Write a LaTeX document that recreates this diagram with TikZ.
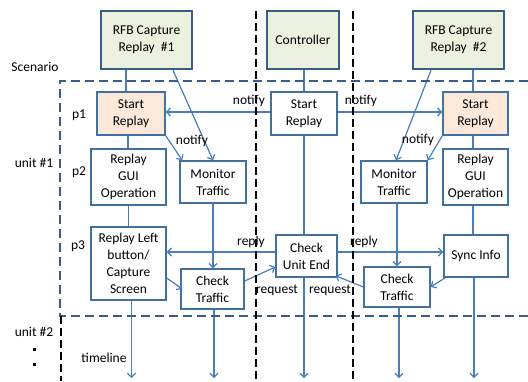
\documentclass[tikz,border=0pt]{standalone}
\usepackage{fontspec}
\setmainfont{Carlito}
\usetikzlibrary{arrows.meta}
\definecolor{lineblue}{HTML}{4A7EBB}
\definecolor{boxblue}{HTML}{41719C}
\definecolor{darkblue}{HTML}{385D8A}
\definecolor{topfill}{HTML}{EBF1DE}
\definecolor{peach}{HTML}{FDE9D9}
\tikzset{
  txt/.style={font=\fontsize{13.5}{17}\selectfont, inner sep=0pt},
  box/.style={txt, draw=boxblue, line width=1.4pt, fill=white, align=center},
  topbox/.style={box, draw=darkblue, line width=2.4pt, fill=topfill},
  startbox/.style={box, fill=peach},
  conn/.style={draw=lineblue, line width=1.2pt},
  arr/.style={conn, -{Straight Barb[length=4pt,width=8pt,line width=1.2pt]}},
  scen/.style={draw=darkblue, line width=2.6pt, dash pattern=on 9pt off 5pt},
  sep/.style={draw=black, line width=2.8pt, dash pattern=on 8pt off 4pt},
  lbl/.style={txt, anchor=center}
}
\begin{document}
\begin{tikzpicture}[x=1pt,y=-1pt]
\useasboundingbox (0,0) rectangle (528,381);
\coordinate (bot) at (0,378);

% nodes
\node[topbox, minimum width=91pt, minimum height=58pt] (rfb1) at (146.5,40) {RFB Capture\\Replay \ \#1};
\node[topbox, minimum width=72pt, minimum height=58pt] (ctrl) at (303,40) {Controller};
\node[topbox, minimum width=91pt, minimum height=58pt] (rfb2) at (458.5,40) {RFB Capture\\Replay \ \#2};

\node[startbox, minimum width=68pt, minimum height=43pt] (sr1) at (131,113.5) {Start\\Replay};
\node[box, minimum width=75pt, minimum height=56pt] (gui1) at (128.5,177) {Replay\\GUI\\Operation};
\node[box, minimum width=66pt, minimum height=42pt] (mon1) at (213,182) {Monitor\\Traffic};
\node[box, minimum width=75pt, minimum height=73pt] (rl1) at (128.5,263.5) {Replay Left\\button/\\Capture\\Screen};
\node[box, minimum width=63pt, minimum height=40pt] (ct1) at (212.5,289) {Check\\Traffic};

\node[box, minimum width=66pt, minimum height=43pt] (csr) at (304,113.5) {Start\\Replay};
\node[box, minimum width=61pt, minimum height=42pt] (cue) at (306.5,256) {Check\\Unit End};

\node[box, minimum width=66pt, minimum height=42pt] (mon2) at (394,182) {Monitor\\Traffic};
\node[startbox, minimum width=65pt, minimum height=43pt] (sr2) at (475.5,113.5) {Start\\Replay};
\node[box, minimum width=65pt, minimum height=56pt] (gui2) at (475.5,177) {Replay\\GUI\\Operation};
\node[box, minimum width=64pt, minimum height=42pt] (sync) at (476,256) {Sync Info};
\node[box, minimum width=66pt, minimum height=40pt] (ct2) at (397,287) {Check\\Traffic};

% timelines column 1
\draw[conn] ([xshift=-5pt]sr1.north) -- ([xshift=-5pt]sr1.north |- rfb1.south);
\draw[conn] ([xshift=-3pt]sr1.south) -- ([xshift=-3pt]sr1.south |- gui1.north);
\draw[conn] (gui1.south) -- (gui1.south |- rl1.north);
\draw[arr] ([xshift=3pt]rl1.south) -- ([xshift=3pt]rl1.south |- bot);
% column 2
\draw[arr] ([xshift=26.5pt]rfb1.south) -- (mon1.north);
\draw[arr] (sr1.south east) -- ([xshift=3pt]mon1.north west);
\draw[arr] (mon1.south) -- (mon1.south |- ct1.north);
\draw[arr] ([xshift=1.5pt]ct1.south) -- ([xshift=1.5pt]ct1.south |- bot);
\draw[arr] ([yshift=-14.5pt]rl1.east) -- ([xshift=2pt]ct1.west);
% controller
\draw[conn] (ctrl.south -| csr.north) -- (csr.north);
\draw[conn] (csr.south) -- (csr.south |- cue.north);
\draw[arr] (cue.south -| csr.south) -- (csr.south |- bot);
\draw[arr] ([yshift=1.5pt]csr.west) -- ([yshift=1.5pt]csr.west -| sr1.east);
\draw[arr] ([yshift=1.5pt]csr.east) -- ([yshift=1.5pt]csr.east -| sr2.west);
\draw[arr] ([yshift=4pt]cue.west) -- ([yshift=4pt]cue.west -| rl1.east);
\draw[arr] ([yshift=4pt]cue.east) -- ([yshift=4pt]cue.east -| sync.west);
\draw[arr] ([yshift=8pt]ct1.east) -- ([yshift=-11pt]cue.west);
\draw[arr] (ct2.west) -- ([xshift=-2pt,yshift=2pt]cue.south east);
% column 4
\draw[arr] ([xshift=-27.5pt]rfb2.south) -- ([xshift=2pt]mon2.north);
\draw[arr] (sr2.south west) -- (mon2.north east);
\draw[arr] (ct2.north |- mon2.south) -- (ct2.north);
\draw[arr] ([xshift=2pt]ct2.south) -- ([xshift=2pt]ct2.south |- bot);
\draw[arr] ([xshift=2pt]sync.south west) -- (ct2.east);
% column 5
\draw[conn] ([xshift=-2.5pt]sr2.north) -- ([xshift=-2.5pt]sr2.north |- rfb2.south);
\draw[conn] ([xshift=-2.5pt]sr2.south) -- ([xshift=-2.5pt]sr2.south |- gui2.north);
\draw[conn] ([xshift=-2.5pt]gui2.south) -- ([xshift=-2.5pt]gui2.south |- sync.north);
\draw[arr] ([xshift=-2pt]sync.south) -- ([xshift=-2pt]sync.south |- bot);

% scenario frame
\draw[scen] (528,81) -- (60,81) -- (60,316) -- (528,316);

% labels
\node[lbl] (lscen) at (35,67) {Scenario};
\node[lbl] (lu1) at (34,163) {unit \#1};
\node[lbl] (lp1) at (79,115) {p1};
\node[lbl] (lp2) at (79,172) {p2};
\node[lbl] (lp3) at (78,246) {p3};
\node[lbl] (lu2) at (34,332) {unit \#2};
\node[lbl] (ltime) at (104,358) {timeline};
\node[lbl] (ln1) at (249,101) {notify};
\node[lbl] (ln2) at (361,101) {notify};
\node[lbl] (ln3) at (192,141) {notify};
\node[lbl] (ln4) at (418,140) {notify};
\node[lbl] (lr1) at (251,242) {reply};
\node[lbl] (lr2) at (364,242) {reply};
\node[lbl] (lq1) at (277,290) {request};
\node[lbl] (lq2) at (330,290) {request};
\fill (32.5,347.5) rectangle (35.5,350.5);
\fill (32.5,362.5) rectangle (35.5,365.5);

% separators
\draw[sep] (256,11) -- (256,381);
\draw[sep] (353,11) -- (353,381);
\draw[sep] (61,316) -- (61,381);
\end{tikzpicture}
\end{document}
